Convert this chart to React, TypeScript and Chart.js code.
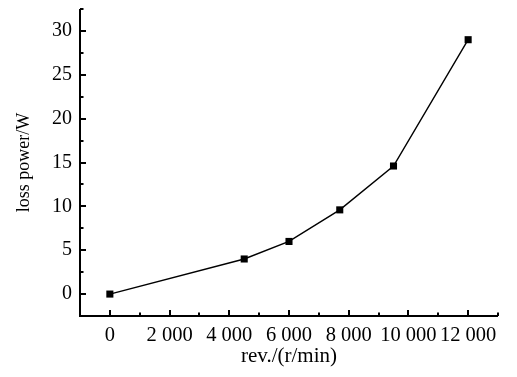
import React, { useEffect, useRef } from "react";
import { Chart, registerables } from "chart.js";

Chart.register(...registerables);

const speeds = [0, 4500, 6000, 7700, 9500, 12000];
const losses = [0, 4.0, 6.0, 9.6, 14.6, 29.0];
const xTicks = [0, 2000, 4000, 6000, 8000, 10000, 12000];
const xMinorTicks = [1000, 3000, 5000, 7000, 9000, 11000, 13000];
const yTicks = [0, 5, 10, 15, 20, 25, 30];
const yMinorTicks = [2.5, 7.5, 12.5, 17.5, 22.5, 27.5, 32.5];
const xTitle = "rev./(r/min)";
const yTitle = "loss power/W";

const fmt = (v: number) => {
  const s = String(Math.round(v));
  return s.length > 3 ? s.slice(0, s.length - 3) + " " + s.slice(-3) : s;
};

const FONT = "'Liberation Serif', 'DejaVu Serif', serif";

const axesPlugin = {
  id: "innerAxes",
  afterDraw(chart: any) {
    const { ctx, chartArea } = chart;
    const xs = chart.scales.x;
    const ys = chart.scales.y;
    ctx.save();
    ctx.strokeStyle = "#000";
    ctx.lineWidth = 2;
    ctx.lineCap = "butt";
    ctx.beginPath();
    ctx.moveTo(chartArea.left, chartArea.top);
    ctx.lineTo(chartArea.left, chartArea.bottom);
    ctx.lineTo(chartArea.right, chartArea.bottom);
    ctx.stroke();
    ctx.beginPath();
    for (const v of xTicks) {
      const px = Math.round(xs.getPixelForValue(v));
      ctx.moveTo(px, chartArea.bottom);
      ctx.lineTo(px, chartArea.bottom - 6);
    }
    for (const v of xMinorTicks) {
      const px = Math.round(xs.getPixelForValue(v));
      ctx.moveTo(px, chartArea.bottom);
      ctx.lineTo(px, chartArea.bottom - 3.5);
    }
    for (const v of yTicks) {
      const py = Math.round(ys.getPixelForValue(v));
      ctx.moveTo(chartArea.left, py);
      ctx.lineTo(chartArea.left + 6, py);
    }
    for (const v of yMinorTicks) {
      const py = Math.round(ys.getPixelForValue(v));
      ctx.moveTo(chartArea.left, py);
      ctx.lineTo(chartArea.left + 3.5, py);
    }
    ctx.stroke();
    ctx.restore();
  },
};

export default function App() {
  const ref = useRef<HTMLCanvasElement | null>(null);

  useEffect(() => {
    if (!ref.current) return;
    const chart = new Chart(ref.current, {
      type: "line",
      data: {
        datasets: [
          {
            data: speeds.map((s, i) => ({ x: s, y: losses[i] })),
            borderColor: "#000",
            backgroundColor: "#000",
            borderWidth: 1.4,
            pointStyle: "rect",
            pointRadius: 5,
            pointBorderWidth: 0,
            tension: 0,
          },
        ],
      },
      options: {
        animation: false,
        responsive: false,
        maintainAspectRatio: false,
        layout: { padding: { top: 9, right: 19, left: 0, bottom: 0 } },
        plugins: { legend: { display: false }, tooltip: { enabled: false } },
        scales: {
          x: {
            type: "linear",
            min: -1000,
            max: 13000,
            border: { display: false },
            grid: { display: false, drawTicks: false },
            afterBuildTicks: (s: any) => {
              s.ticks = xTicks.map((v) => ({ value: v }));
            },
            afterFit: (s: any) => {
              s.height = 61;
              s.paddingLeft = 0;
              s.paddingRight = 0;
            },
            ticks: {
              padding: 7,
              color: "#000",
              maxRotation: 0,
              autoSkip: false,
              font: { family: FONT, size: 20.5 },
              callback: (v: any) => fmt(Number(v)),
            },
            title: {
              display: true,
              text: xTitle,
              color: "#000",
              font: { family: FONT, size: 21 },
              padding: { top: 0, bottom: 8 },
            },
          },
          y: {
            type: "linear",
            min: -2.5,
            max: 32.5,
            border: { display: false },
            grid: { display: false, drawTicks: false },
            afterBuildTicks: (s: any) => {
              s.ticks = yTicks.map((v) => ({ value: v }));
            },
            afterFit: (s: any) => {
              s.width = 80;
              s.paddingTop = 0;
              s.paddingBottom = 0;
            },
            ticks: {
              padding: 8,
              color: "#000",
              autoSkip: false,
              font: { family: FONT, size: 20 },
              callback: (v: any) => fmt(Number(v)),
            },
            title: {
              display: true,
              text: yTitle,
              color: "#000",
              font: { family: FONT, size: 18 },
              padding: { top: 13, bottom: 0 },
            },
          },
        },
      },
      plugins: [axesPlugin],
    });
    return () => chart.destroy();
  }, []);

  return (
    <div style={{ position: "fixed", left: 0, top: 0, width: 517, height: 377, background: "#fff" }}>
      <canvas ref={ref} width={517} height={377} style={{ width: 517, height: 377, display: "block" }} />
    </div>
  );
}
